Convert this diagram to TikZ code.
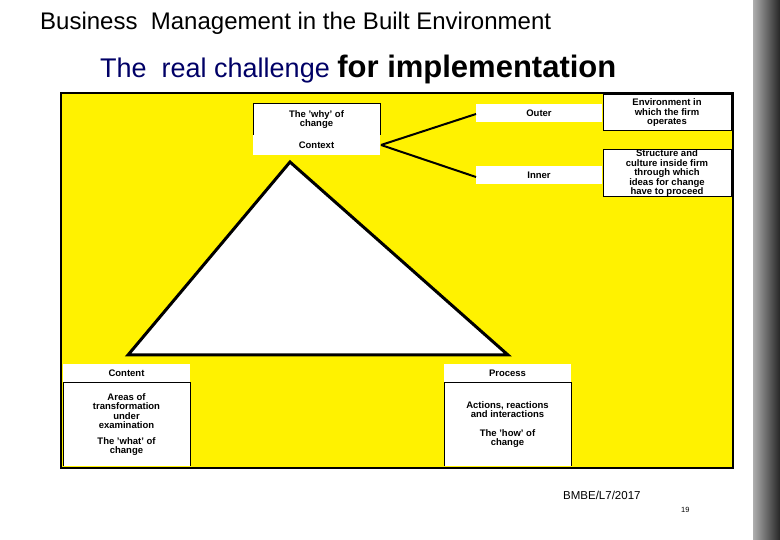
\documentclass[tikz,border=0pt]{standalone}
\usepackage{fontspec}
\setmainfont{Liberation Sans}
\begin{document}
\begin{tikzpicture}[x=1pt,y=-1pt,
  wbox/.style={fill=white,draw=black,line width=1pt},
  lbl/.style={font=\fontsize{9.5}{9.5}\selectfont\bfseries,align=center,inner sep=0pt},
  conn/.style={line width=2pt}]
\useasboundingbox (0,0) rectangle (780,540);
\fill[white] (0,0) rectangle (780,540);
\shade[left color=gray!60, right color=black!85] (752,0) rectangle (780,540);
\draw[white,line width=1.5pt] (752,0) -- (752,540);
\node[anchor=west,font=\fontsize{24}{24}\selectfont,inner sep=0pt] (title) at (40,23) {Business\ \ Management in the Built Environment};
\node[anchor=west,font=\fontsize{27}{27}\selectfont,inner sep=0pt,text=blue!40!black] (sub) at (100,69) {The\ \ real challenge \textcolor{black}{\fontsize{31}{31}\selectfont\bfseries for implementation}};
\draw[fill=yellow,line width=2pt] (61,93) rectangle (733,468);
\draw[fill=white,line width=3pt,line join=miter] (290,162) -- (508,355) -- (128,355) -- cycle;
\fill[white] (253,104) rectangle (380,155);
\draw[line width=1pt] (253,135) -- (253,104) -- (380,104) -- (380,135);
\node[lbl] (why) at (316.5,119.5) {The 'why' of\\change};
\node[lbl] (ctx) at (316.5,145) {Context};
\coordinate (cr) at (381,145);
\fill[white] (476,104) rectangle (602,122);
\node[lbl] (outer) at (539,113) {Outer};
\fill[white] (476,166) rectangle (602,184);
\node[lbl] (inner) at (539,175) {Inner};
\coordinate (ol) at (476,114);
\coordinate (il) at (476,177);
\draw[conn] (cr) -- (ol);
\draw[conn] (cr) -- (il);
\node[wbox,minimum width=128,minimum height=36,lbl] (env) at (667,113) {Environment in\\which the firm\\operates};
\node[wbox,minimum width=128,minimum height=47,lbl] (str) at (667,173.5) {Structure and\\culture inside firm\\through which\\ideas for change\\have to proceed};
\fill[white] (63,364) rectangle (190,466);
\draw[line width=1pt] (63,466) -- (63,383) -- (190,383) -- (190,466);
\node[lbl] (content) at (126.5,373.5) {Content};
\node[lbl] (cbody) at (126.5,424.5) {Areas of\\transformation\\under\\examination\\[6pt]The 'what' of\\change};
\fill[white] (444,364) rectangle (571,466);
\draw[line width=1pt] (444,466) -- (444,383) -- (571,383) -- (571,466);
\node[lbl] (process) at (507.5,373.5) {Process};
\node[lbl] (pbody) at (507.5,424.5) {Actions, reactions\\and interactions\\[9pt]The 'how' of\\change};
\node[anchor=west,font=\fontsize{11.5}{11.5}\selectfont,inner sep=0pt] (foot) at (563,495) {BMBE/L7/2017};
\node[anchor=west,font=\fontsize{7.5}{7.5}\selectfont,inner sep=0pt] (pg) at (681,510) {19};
\end{tikzpicture}
\end{document}
